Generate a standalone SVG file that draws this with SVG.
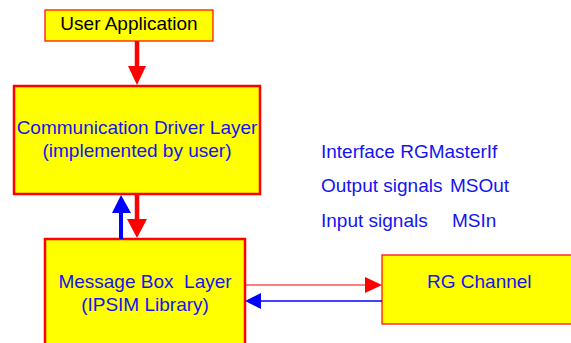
<svg xmlns="http://www.w3.org/2000/svg" width="571" height="343" viewBox="0 0 571 343">
  <defs>
    <style>
      .box { fill: #ffff00; stroke: #ff0000; }
      .thick { stroke-width: 2.5; }
      .thin { stroke-width: 1.2; }
      .lbl { font-family: "Liberation Sans", Arial, sans-serif; font-size: 19px; fill: #1414f0; white-space: pre; }
      .dark { fill: #000000; }
      .mid { text-anchor: middle; }
    </style>
  </defs>
  <rect width="571" height="343" fill="#ffffff"/>

  <!-- nodes -->
  <g id="user-application">
    <rect class="box thin" x="45" y="10" width="168" height="31"/>
    <text class="lbl dark mid" x="129" y="30">User Application</text>
  </g>
  <g id="communication-driver-layer">
    <rect class="box thick" x="14" y="86" width="246" height="108"/>
    <text class="lbl mid" x="137" y="134">Communication Driver Layer</text>
    <text class="lbl mid" x="137" y="157">(implemented by user)</text>
  </g>
  <g id="message-box-layer">
    <rect class="box thick" x="45" y="239" width="200" height="110"/>
    <text class="lbl mid" x="145" y="288" xml:space="preserve">Message Box  Layer</text>
    <text class="lbl mid" x="145" y="311">(IPSIM Library)</text>
  </g>
  <g id="rg-channel">
    <rect class="box thin" x="382" y="255" width="200" height="69"/>
    <text class="lbl" x="427" y="288">RG Channel</text>
  </g>

  <!-- interface notes -->
  <g id="interface-notes">
    <text class="lbl" x="321" y="158">Interface RGMasterIf</text>
    <text class="lbl" x="321" y="192">Output signals</text>
    <text class="lbl" x="450" y="192">MSOut</text>
    <text class="lbl" x="321" y="227">Input signals</text>
    <text class="lbl" x="452" y="227">MSIn</text>
  </g>

  <!-- connectors -->
  <g id="connectors">
    <line x1="137" y1="41" x2="137" y2="67" stroke="#ff0000" stroke-width="4.5"/>
    <polygon points="128,66 146,66 137,85" fill="#ff0000"/>

    <line x1="121" y1="212" x2="121" y2="239" stroke="#0000ff" stroke-width="4"/>
    <polygon points="112,213 131,213 121,195" fill="#0000ff"/>

    <line x1="137" y1="194" x2="137" y2="220" stroke="#ff0000" stroke-width="4.5"/>
    <polygon points="127,219 147,219 137,238" fill="#ff0000"/>

    <line x1="245" y1="285" x2="366" y2="285" stroke="#ff0000" stroke-width="1.2"/>
    <polygon points="365,277 382,285 365,293" fill="#ff0000"/>

    <line x1="260" y1="301" x2="382" y2="301" stroke="#0000ff" stroke-width="1.6"/>
    <polygon points="261,293 245,301 261,309" fill="#0000ff"/>
  </g>
</svg>
